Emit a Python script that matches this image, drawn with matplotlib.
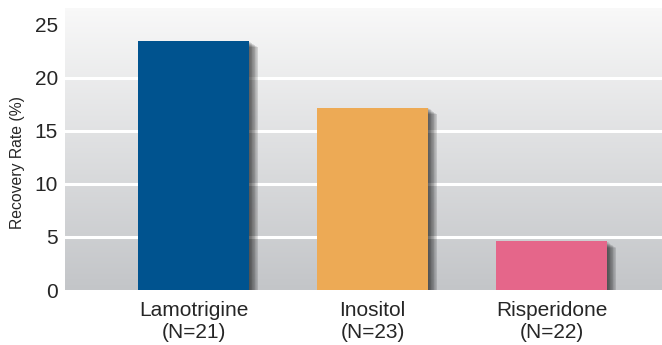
import numpy as np
import matplotlib
matplotlib.use("Agg")
import matplotlib.pyplot as plt
import matplotlib.transforms as mtransforms

categories = ["Lamotrigine\n(N=21)", "Inositol\n(N=23)", "Risperidone\n(N=22)"]
values = [23.5, 17.2, 4.6]
colors = ["#00538f", "#edaa55", "#e5668a"]
yticks = [0, 5, 10, 15, 20, 25]
ylabel = "Recovery Rate (%)"

plt.rcParams['font.family'] = ['Liberation Sans', 'DejaVu Sans']

fig = plt.figure(figsize=(6.62, 3.45), dpi=100)
ax = fig.add_axes([65/662, 1-290/345, 1-65/662, 282/345])

# gradient background
grad = np.linspace(0, 1, 256).reshape(-1, 1)
top = np.array([0.975, 0.975, 0.975])
bot = np.array([0.765, 0.773, 0.785])
img = top[None, None, :] * (1 - grad[:, :, None]) + bot[None, None, :] * grad[:, :, None]
ax.imshow(img, extent=[0, 1, 0, 1], transform=ax.transAxes, aspect='auto', zorder=0, interpolation='bilinear')

for t in yticks[1:-1]:
    ax.axhline(t, color='white', lw=2.2, zorder=1)

x = np.arange(len(categories))
width = 0.62

# blurred shadow
n = 12
for i in range(n):
    d = 1 + i * 0.75
    tr = mtransforms.offset_copy(ax.transData, fig=fig, x=d, y=-d * 0.7, units='dots')
    ax.bar(x, values, width=width, color='black', alpha=0.065, transform=tr, zorder=2, linewidth=0)

ax.bar(x, values, width=width, color=colors, zorder=3, linewidth=0)

ax.set_xlim(-0.718, 2.617)
ax.set_ylim(0, 26.6)
ax.set_yticks(yticks)
ax.set_xticks(x)
ax.set_xticklabels(categories, fontsize=15, color='#262626', linespacing=1.22)
ax.tick_params(axis='x', length=0, pad=8)
ax.tick_params(axis='y', length=0, pad=5, labelsize=15, labelcolor='#262626')
for s in ax.spines.values():
    s.set_visible(False)
fig.text(18/662, 1-163/345, ylabel, rotation=90, fontsize=11.3, color='#262626', ha='center', va='center')

fig.savefig("out.png", dpi=100)
